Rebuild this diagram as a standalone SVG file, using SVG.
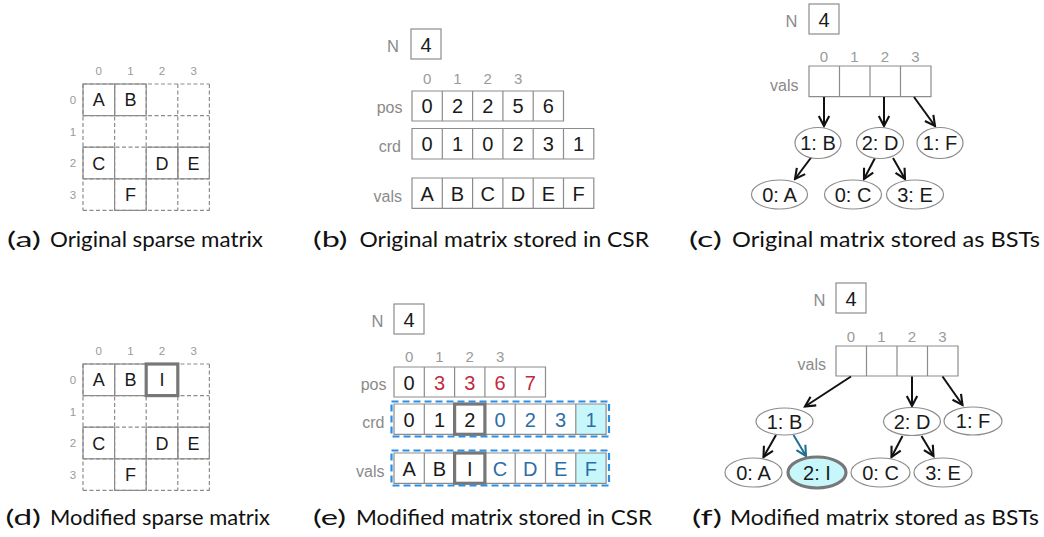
<svg xmlns="http://www.w3.org/2000/svg" width="1044" height="537" viewBox="0 0 1044 537">
<style>
.ln{stroke:#8c8c8c;stroke-width:1.2;fill:none}
.dash{stroke-dasharray:4 2.5}
.t{font-family:"Liberation Sans",Arial,sans-serif;fill:#1a1a1a;text-anchor:middle;font-size:20px}
.tm{font-size:18px}
.lbl{font-family:"Liberation Sans",Arial,sans-serif;fill:#8a8a8a;text-anchor:end;font-size:16px}
.nl{font-size:16.5px}
.idx{font-family:"Liberation Sans",Arial,sans-serif;fill:#9a9a9a;text-anchor:middle;font-size:15px}
.midx{font-size:11.5px}
.cap{font-family:Lato,"Liberation Sans",sans-serif;font-size:22px;fill:#111}
.red{fill:#c42a3e}
.blue{fill:#2e6ea6}
.hl{fill:none;stroke:#777;stroke-width:3.2}
.bd{fill:none;stroke:#2b8fe6;stroke-width:2.2;stroke-dasharray:7 4}
.cy{fill:#c8f7fb}
.ell{fill:#fff;stroke:#8c8c8c;stroke-width:1.2}
.arr{stroke:#111;stroke-width:2;fill:none;marker-end:url(#ah)}
.arrb{stroke:#1f6e94;stroke-width:2;fill:none;marker-end:url(#ahb)}
</style>
<defs>
<marker id="ah" viewBox="0 0 14 14" refX="12" refY="7" markerWidth="14" markerHeight="14" markerUnits="userSpaceOnUse" orient="auto">
<path d="M2,1.8 L12,7 L2,12.2" fill="none" stroke="#111" stroke-width="2.1"/>
</marker>
<marker id="ahb" viewBox="0 0 14 14" refX="12" refY="7" markerWidth="14" markerHeight="14" markerUnits="userSpaceOnUse" orient="auto">
<path d="M2,1.8 L12,7 L2,12.2" fill="none" stroke="#1f6e94" stroke-width="2.1"/>
</marker>
</defs>
<rect width="1044" height="537" fill="#fff"/>

<!-- (a) matrix -->
<g id="matrix-a">
<path class="ln dash" d="M83,84H209.4M83,115.6H209.4M83,147.2H209.4M83,178.8H209.4M83,210.4H209.4M83,84V210.4M114.6,84V210.4M146.2,84V210.4M177.8,84V210.4M209.4,84V210.4"/>
<rect class="ln" x="83" y="84" width="31.6" height="31.6"/>
<rect class="ln" x="114.6" y="84" width="31.6" height="31.6"/>
<rect class="ln" x="83" y="147.2" width="31.6" height="31.6"/>
<rect class="ln" x="146.2" y="147.2" width="31.6" height="31.6"/>
<rect class="ln" x="177.8" y="147.2" width="31.6" height="31.6"/>
<rect class="ln" x="114.6" y="178.8" width="31.6" height="31.6"/>
<text class="t tm" x="98.8" y="106.3">A</text>
<text class="t tm" x="130.4" y="106.3">B</text>
<text class="t tm" x="98.8" y="169.5">C</text>
<text class="t tm" x="162" y="169.5">D</text>
<text class="t tm" x="193.6" y="169.5">E</text>
<text class="t tm" x="130.4" y="201.1">F</text>
<text class="idx midx" x="98.8" y="75">0</text>
<text class="idx midx" x="130.4" y="75">1</text>
<text class="idx midx" x="162" y="75">2</text>
<text class="idx midx" x="193.6" y="75">3</text>
<text class="idx midx" x="73" y="104">0</text>
<text class="idx midx" x="73" y="135.5">1</text>
<text class="idx midx" x="73" y="167">2</text>
<text class="idx midx" x="73" y="198.5">3</text>
</g>

<!-- (d) matrix -->
<g id="matrix-d" transform="translate(0,280)">
<path class="ln dash" d="M83,84H209.4M83,115.6H209.4M83,147.2H209.4M83,178.8H209.4M83,210.4H209.4M83,84V210.4M114.6,84V210.4M146.2,84V210.4M177.8,84V210.4M209.4,84V210.4"/>
<rect class="ln" x="83" y="84" width="31.6" height="31.6"/>
<rect class="ln" x="114.6" y="84" width="31.6" height="31.6"/>
<rect class="ln" x="83" y="147.2" width="31.6" height="31.6"/>
<rect class="ln" x="146.2" y="147.2" width="31.6" height="31.6"/>
<rect class="ln" x="177.8" y="147.2" width="31.6" height="31.6"/>
<rect class="ln" x="114.6" y="178.8" width="31.6" height="31.6"/>
<rect class="hl" x="146.2" y="84" width="31.6" height="31.6"/>
<text class="t tm" x="98.8" y="106.3">A</text>
<text class="t tm" x="130.4" y="106.3">B</text>
<text class="t tm" x="162" y="106.3">I</text>
<text class="t tm" x="98.8" y="169.5">C</text>
<text class="t tm" x="162" y="169.5">D</text>
<text class="t tm" x="193.6" y="169.5">E</text>
<text class="t tm" x="130.4" y="201.1">F</text>
<text class="idx midx" x="98.8" y="75">0</text>
<text class="idx midx" x="130.4" y="75">1</text>
<text class="idx midx" x="162" y="75">2</text>
<text class="idx midx" x="193.6" y="75">3</text>
<text class="idx midx" x="73" y="104">0</text>
<text class="idx midx" x="73" y="135.5">1</text>
<text class="idx midx" x="73" y="167">2</text>
<text class="idx midx" x="73" y="198.5">3</text>
</g>

<!-- (b) CSR -->
<g id="csr-b">
<text class="lbl nl" x="399" y="52">N</text>
<rect class="ln" x="411" y="29" width="30" height="30"/>
<text class="t" x="426" y="51.5">4</text>
<text class="idx" x="427.15" y="83.5">0</text>
<text class="idx" x="457.45" y="83.5">1</text>
<text class="idx" x="487.75" y="83.5">2</text>
<text class="idx" x="518.05" y="83.5">3</text>
<text class="lbl" x="402.5" y="113">pos</text>
<text class="lbl" x="401" y="151.5">crd</text>
<text class="lbl" x="402" y="201.5">vals</text>
<path class="ln" d="M412,91H563.5V121H412ZM442.3,91V121M472.6,91V121M502.9,91V121M533.2,91V121"/>
<path class="ln" d="M412,128.5H593.8V159H412ZM442.3,128.5V159M472.6,128.5V159M502.9,128.5V159M533.2,128.5V159M563.5,128.5V159"/>
<path class="ln" d="M412,178H593.8V208.3H412ZM442.3,178V208.3M472.6,178V208.3M502.9,178V208.3M533.2,178V208.3M563.5,178V208.3"/>
<text class="t" y="113"><tspan x="427.15">0</tspan><tspan x="457.45">2</tspan><tspan x="487.75">2</tspan><tspan x="518.05">5</tspan><tspan x="548.35">6</tspan></text>
<text class="t" y="151"><tspan x="427.15">0</tspan><tspan x="457.45">1</tspan><tspan x="487.75">0</tspan><tspan x="518.05">2</tspan><tspan x="548.35">3</tspan><tspan x="578.65">1</tspan></text>
<text class="t" y="200.5"><tspan x="427.15">A</tspan><tspan x="457.45">B</tspan><tspan x="487.75">C</tspan><tspan x="518.05">D</tspan><tspan x="548.35">E</tspan><tspan x="578.65">F</tspan></text>
</g>

<!-- (e) CSR -->
<g id="csr-e">
<text class="lbl nl" x="383.5" y="327">N</text>
<rect class="ln" x="394" y="304" width="30" height="30"/>
<text class="t" x="409" y="326.5">4</text>
<text class="idx" x="409.15" y="362">0</text>
<text class="idx" x="439.45" y="362">1</text>
<text class="idx" x="469.75" y="362">2</text>
<text class="idx" x="500.05" y="362">3</text>
<text class="lbl" x="386.5" y="390">pos</text>
<text class="lbl" x="384.5" y="428">crd</text>
<text class="lbl" x="384.5" y="476.5">vals</text>
<rect class="cy" x="575.8" y="404" width="30.3" height="30.3"/>
<rect class="cy" x="575.8" y="453" width="30.3" height="30.3"/>
<path class="ln" d="M394,367H545.5V397H394ZM424.3,367V397M454.6,367V397M484.9,367V397M515.2,367V397"/>
<path class="ln" d="M394,404H606.1V434.3H394ZM424.3,404V434.3M454.6,404V434.3M484.9,404V434.3M515.2,404V434.3M545.5,404V434.3M575.8,404V434.3"/>
<path class="ln" d="M394,453H606.1V483.3H394ZM424.3,453V483.3M454.6,453V483.3M484.9,453V483.3M515.2,453V483.3M545.5,453V483.3M575.8,453V483.3"/>
<rect class="hl" x="454.6" y="404" width="30.3" height="30.3"/>
<rect class="hl" x="454.6" y="453" width="30.3" height="30.3"/>
<rect class="bd" x="391.5" y="401.5" width="217.5" height="35"/>
<rect class="bd" x="391.5" y="450.5" width="217.5" height="35"/>
<text class="t" y="389.5"><tspan x="409.15">0</tspan><tspan class="red" x="439.45">3</tspan><tspan class="red" x="469.75">3</tspan><tspan class="red" x="500.05">6</tspan><tspan class="red" x="530.35">7</tspan></text>
<text class="t" y="426.5"><tspan x="409.15">0</tspan><tspan x="439.45">1</tspan><tspan x="469.75">2</tspan><tspan class="blue" x="500.05">0</tspan><tspan class="blue" x="530.35">2</tspan><tspan class="blue" x="560.65">3</tspan><tspan class="blue" x="590.95">1</tspan></text>
<text class="t" y="475.5"><tspan x="409.15">A</tspan><tspan x="439.45">B</tspan><tspan x="469.75">I</tspan><tspan class="blue" x="500.05">C</tspan><tspan class="blue" x="530.35">D</tspan><tspan class="blue" x="560.65">E</tspan><tspan class="blue" x="590.95">F</tspan></text>
</g>

<!-- (c) BSTs -->
<g id="bst-c-array">
<text class="lbl nl" x="797.5" y="27">N</text>
<rect class="ln" x="809" y="4" width="30" height="30"/>
<text class="t" x="824" y="26.5">4</text>
<text class="idx" x="824" y="62">0</text>
<text class="idx" x="854.5" y="62">1</text>
<text class="idx" x="885" y="62">2</text>
<text class="idx" x="915.5" y="62">3</text>
<text class="lbl" x="798.5" y="91">vals</text>
<path class="ln" d="M809,66H931V96.7H809ZM839.5,66V96.7M870,66V96.7M900.5,66V96.7"/>
</g>
<g id="bst-c-connectors">
<path class="arr" d="M824,97V126"/>
<path class="arr" d="M884,97V126"/>
<path class="arr" d="M914,97L935,126"/>
<path class="arr" d="M811.5,157L795,179"/>
<path class="arr" d="M875,158L864,179"/>
<path class="arr" d="M893,158L905,179"/>
</g>
<g id="c-1B"><ellipse class="ell" cx="818" cy="143" rx="23" ry="15.5"/><text class="t" x="818" y="150">1: B</text></g>
<g id="c-2D"><ellipse class="ell" cx="880" cy="143" rx="23.5" ry="15.5"/><text class="t" x="880" y="150">2: D</text></g>
<g id="c-1F"><ellipse class="ell" cx="940" cy="143" rx="23" ry="15.5"/><text class="t" x="940" y="150">1: F</text></g>
<g id="c-0A"><ellipse class="ell" cx="779.5" cy="194.5" rx="28" ry="14.5"/><text class="t" x="779.5" y="201.5">0: A</text></g>
<g id="c-0C"><ellipse class="ell" cx="853" cy="194.5" rx="28.5" ry="14.5"/><text class="t" x="853" y="201.5">0: C</text></g>
<g id="c-3E"><ellipse class="ell" cx="915" cy="194.5" rx="28.5" ry="14.5"/><text class="t" x="915" y="201.5">3: E</text></g>

<!-- (f) BSTs -->
<g id="bst-f-array">
<text class="lbl nl" x="825.5" y="306">N</text>
<rect class="ln" x="836" y="283" width="30" height="30"/>
<text class="t" x="851" y="305.5">4</text>
<text class="idx" x="851" y="342">0</text>
<text class="idx" x="881.5" y="342">1</text>
<text class="idx" x="912" y="342">2</text>
<text class="idx" x="942.5" y="342">3</text>
<text class="lbl" x="826" y="370">vals</text>
<path class="ln" d="M836,346H958V376H836ZM866.5,346V376M897,346V376M927.5,346V376"/>
</g>
<g id="bst-f-connectors">
<path class="arr" d="M851,376.5L805,406.5"/>
<path class="arr" d="M912,376.5V406"/>
<path class="arr" d="M942.5,376.5L962.5,405"/>
<path class="arr" d="M776,435L763.5,457"/>
<path class="arrb" d="M793.5,435L806,456"/>
<path class="arr" d="M902.5,436L891.5,457"/>
<path class="arr" d="M921.5,436L933.5,456"/>
</g>
<g id="f-1B"><ellipse class="ell" cx="784.5" cy="421.5" rx="28.5" ry="13.5"/><text class="t" x="784.5" y="428.5">1: B</text></g>
<g id="f-2D"><ellipse class="ell" cx="912" cy="421.5" rx="28.5" ry="14"/><text class="t" x="912" y="428.5">2: D</text></g>
<g id="f-1F"><ellipse class="ell" cx="973" cy="421" rx="29" ry="14"/><text class="t" x="973" y="428">1: F</text></g>
<g id="f-0A"><ellipse class="ell" cx="753.5" cy="472.5" rx="28.5" ry="14.5"/><text class="t" x="753.5" y="479.5">0: A</text></g>
<g id="f-2I"><ellipse cx="817" cy="472.5" rx="29" ry="15.5" fill="#c8f7fb" stroke="#777" stroke-width="3.2"/><text class="t" x="817" y="479.5">2: I</text></g>
<g id="f-0C"><ellipse class="ell" cx="880.5" cy="472.5" rx="29.5" ry="14.5"/><text class="t" x="880.5" y="479.5">0: C</text></g>
<g id="f-3E"><ellipse class="ell" cx="943" cy="472.5" rx="29" ry="14.5"/><text class="t" x="943" y="479.5">3: E</text></g>

<!-- captions -->
<g id="captions">
<text class="cap" y="247"><tspan x="7" textLength="34" lengthAdjust="spacingAndGlyphs">(a)</tspan><tspan x="50" textLength="213" lengthAdjust="spacingAndGlyphs">Original sparse matrix</tspan></text>
<text class="cap" y="247"><tspan x="313" textLength="34.5" lengthAdjust="spacingAndGlyphs">(b)</tspan><tspan x="359.5" textLength="289.5" lengthAdjust="spacingAndGlyphs">Original matrix stored in CSR</tspan></text>
<text class="cap" y="247"><tspan x="689" textLength="33" lengthAdjust="spacingAndGlyphs">(c)</tspan><tspan x="732" textLength="308" lengthAdjust="spacingAndGlyphs">Original matrix stored as BSTs</tspan></text>
<text class="cap" y="525"><tspan x="5.5" textLength="35.5" lengthAdjust="spacingAndGlyphs">(d)</tspan><tspan x="50" textLength="220" lengthAdjust="spacingAndGlyphs">Modified sparse matrix</tspan></text>
<text class="cap" y="525"><tspan x="313" textLength="33" lengthAdjust="spacingAndGlyphs">(e)</tspan><tspan x="356" textLength="296" lengthAdjust="spacingAndGlyphs">Modified matrix stored in CSR</tspan></text>
<text class="cap" y="525"><tspan x="692" textLength="30" lengthAdjust="spacingAndGlyphs">(f)</tspan><tspan x="730" textLength="309" lengthAdjust="spacingAndGlyphs">Modified matrix stored as BSTs</tspan></text>
</g>
</svg>
